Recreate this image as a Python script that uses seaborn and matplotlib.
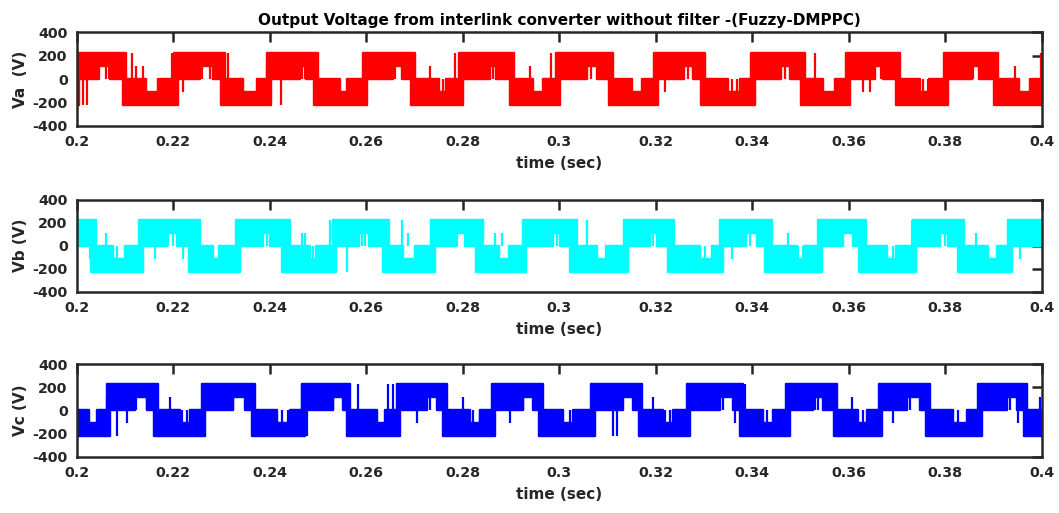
import numpy as np
import matplotlib
matplotlib.use("Agg")
import matplotlib.pyplot as plt
import seaborn as sns
import pandas as pd

# ---------------- data ----------------
# voltage levels of the multilevel output (V)
level_hi = 225
level_mid = 112

# band states: P = 0..hi, K = mid..hi (peak), N = -hi..0, T = -hi..-mid (trough), F = full switching
va_t = [0.2000, 0.2004, 0.2047, 0.2069, 0.2095, 0.2103, 0.2144, 0.2168,
        0.2201, 0.2209, 0.2255, 0.2282, 0.2299, 0.2307, 0.2345, 0.2373,
        0.2395, 0.2403, 0.2462, 0.2476, 0.2492, 0.2500, 0.2545, 0.2560,
        0.2593, 0.2601, 0.2655, 0.2674, 0.2693, 0.2701, 0.2752, 0.2766,
        0.2793, 0.2801, 0.2856, 0.2870, 0.2899, 0.2907, 0.2945, 0.2966,
        0.2993, 0.3001, 0.3057, 0.3078, 0.3103, 0.3111, 0.3150, 0.3171,
        0.3197, 0.3205, 0.3258, 0.3278, 0.3294, 0.3302, 0.3349, 0.3374,
        0.3398, 0.3406, 0.3460, 0.3478, 0.3501, 0.3509, 0.3547, 0.3571,
        0.3594, 0.3602, 0.3655, 0.3671, 0.3698, 0.3706, 0.3747, 0.3767,
        0.3797, 0.3805, 0.3855, 0.3871, 0.3901, 0.3909, 0.3954, 0.3975]
va_state = "FPKPFNTN" "FPKPFNTN" "FPKPFNTN" "FPKPFNTN" "FPKPFNTN" \
           "FPKPFNTN" "FPKPFNTN" "FPKPFNTN" "FPKPFNTN" "FPKPFNTN"

vb_t = [0.2000, 0.2030, 0.2041, 0.2075, 0.2100,
        0.2130, 0.2137, 0.2187, 0.2207, 0.2232, 0.2255, 0.2282, 0.2296,
        0.2331, 0.2338, 0.2386, 0.2400, 0.2426, 0.2442, 0.2483, 0.2497,
        0.2531, 0.2538, 0.2585, 0.2605, 0.2634, 0.2648, 0.2676, 0.2701,
        0.2735, 0.2742, 0.2787, 0.2804, 0.2828, 0.2842, 0.2876, 0.2897,
        0.2925, 0.2932, 0.2987, 0.3001, 0.3022, 0.3036, 0.3078, 0.3098,
        0.3135, 0.3142, 0.3188, 0.3202, 0.3225, 0.3239, 0.3292, 0.3316,
        0.3333, 0.3340, 0.3388, 0.3410, 0.3427, 0.3441, 0.3492, 0.3508,
        0.3537, 0.3544, 0.3588, 0.3608, 0.3622, 0.3636, 0.3679, 0.3699,
        0.3733, 0.3740, 0.3789, 0.3805, 0.3826, 0.3840, 0.3889, 0.3907,
        0.3931, 0.3938]
vb_state = "PFNTN" "FPKPFNTN" "FPKPFNTN" "FPKPFNTN" "FPKPFNTN" "FPKPFNTN" \
           "FPKPFNTN" "FPKPFNTN" "FPKPFNTN" "FPKPFNTN" "FP"

vc_t = [0.2000, 0.2026, 0.2042,
        0.2062, 0.2069, 0.2121, 0.2146, 0.2161, 0.2168, 0.2214, 0.2235,
        0.2259, 0.2266, 0.2324, 0.2349, 0.2363, 0.2370, 0.2415, 0.2442,
        0.2466, 0.2473, 0.2531, 0.2552, 0.2560, 0.2567, 0.2622, 0.2639,
        0.2663, 0.2670, 0.2726, 0.2747, 0.2760, 0.2767, 0.2815, 0.2836,
        0.2860, 0.2867, 0.2925, 0.2946, 0.2959, 0.2966, 0.3008, 0.3029,
        0.3067, 0.3074, 0.3132, 0.3153, 0.3165, 0.3172, 0.3215, 0.3236,
        0.3264, 0.3271, 0.3333, 0.3360, 0.3374, 0.3381, 0.3422, 0.3443,
        0.3471, 0.3478, 0.3526, 0.3547, 0.3569, 0.3576, 0.3619, 0.3638,
        0.3662, 0.3669, 0.3721, 0.3748, 0.3761, 0.3768, 0.3816, 0.3845,
        0.3869, 0.3876, 0.3928, 0.3949, 0.3963, 0.3970]
vc_state = "NTN" "FPKPFNTN" "FPKPFNTN" "FPKPFNTN" "FPKPFNTN" "FPKPFNTN" \
           "FPKPFNTN" "FPKPFNTN" "FPKPFNTN" "FPKPFNTN" "FPKPFN"

# isolated switching spikes (time, from, to)
va_spk_t = [0.2014, 0.2022, 0.2061, 0.2066, 0.2114, 0.2124, 0.2137, 0.2198, 0.2220, 0.2259,
            0.2276, 0.2314, 0.2394, 0.2423, 0.2466, 0.2473, 0.2653, 0.2660, 0.2732, 0.2759,
            0.2784, 0.2863, 0.2940, 0.2984, 0.3067, 0.3174, 0.3219, 0.3268, 0.3358, 0.3368,
            0.3468, 0.3530, 0.3630, 0.3644, 0.3668, 0.3755, 0.3765, 0.3858, 0.3945, 0.3998]
va_spk_lo = [-225, -225, 0, 0, 0, 0, 0, 0, -112, 0,
             0, 0, 0, -225, 0, 0, 0, 0, 0, -112,
             0, 0, 0, 0, 0, -112, -112, 0, -112, -112,
             0, 0, -112, -112, 0, -112, -112, 0, 0, 0]
va_spk_hi = [0, 0, 112, 112, 225, 112, 112, 225, 0, 112,
             112, 225, 112, 0, 112, 112, 112, 112, 112, 0,
             225, 112, 112, 225, 112, 0, 0, 112, 0, 0,
             112, 225, 0, 0, 112, 0, 0, 112, 112, 225]

vb_spk_t = [0.2028, 0.2061, 0.2083, 0.2162, 0.2190, 0.2200, 0.2221, 0.2283, 0.2297, 0.2394,
            0.2428, 0.2466, 0.2473, 0.2490, 0.2525, 0.2560, 0.2591, 0.2598, 0.2674, 0.2687,
            0.2788, 0.2867, 0.2881, 0.2898, 0.2988, 0.2995, 0.3057, 0.3195, 0.3254, 0.3288,
            0.3302, 0.3358, 0.3395, 0.3475, 0.3495, 0.3505, 0.3630, 0.3692, 0.3731, 0.3800,
            0.3865, 0.3955]
vb_spk_lo = [-112, 0, -112, -112, 0, 0, -112, -112, -112, 0,
             -112, 0, 0, -112, 0, -225, 0, 0, 0, 0,
             0, 0, 0, -112, 0, 0, 0, 0, -112, -112,
             -112, -112, 0, 0, -112, -112, -112, -112, 0, 0,
             0, -112]
vb_spk_hi = [0, 112, 0, 0, 112, 112, 0, 0, 0, 112,
             0, 112, 112, 0, 225, 0, 112, 112, 225, 112,
             112, 112, 112, 0, 112, 112, 225, 112, 0, 0,
             0, 0, 112, 112, 0, 0, 0, 0, 225, 112,
             112, 0]

vc_spk_t = [0.2062, 0.2083, 0.2104, 0.2124, 0.2145, 0.2193, 0.2218, 0.2228, 0.2325, 0.2411,
            0.2425, 0.2439, 0.2466, 0.2477, 0.2532, 0.2584, 0.2646, 0.2656, 0.2705, 0.2722,
            0.2732, 0.2801, 0.2822, 0.2836, 0.2898, 0.2926, 0.3022, 0.3112, 0.3119, 0.3195,
            0.3219, 0.3230, 0.3340, 0.3364, 0.3385, 0.3430, 0.3530, 0.3537, 0.3606, 0.3630,
            0.3692, 0.3727, 0.3765, 0.3827, 0.3934, 0.3951, 0.3997]
vc_spk_lo = [0, -225, -112, 0, 0, 0, -112, -112, 0, -112,
             -112, -112, 0, -225, 0, 0, 0, 0, -112, 0,
             0, 0, -112, -112, -112, 0, -112, -225, -225, 0,
             -112, -112, 0, -112, 0, -112, 0, 0, 0, -112,
             -112, 0, -112, -112, 0, -112, 0]
vc_spk_hi = [112, 0, 0, 112, 112, 112, 0, 0, 112, 0,
             0, 0, 225, 0, 112, 225, 225, 225, 0, 112,
             112, 112, 0, 0, 0, 112, 0, 0, 0, 112,
             0, 0, 112, 0, 225, 0, 112, 112, 112, 0,
             0, 112, 0, 0, 112, 0, 112]

series_names = ["Va  (V)", "Vb (V)", "Vc (V)"]
series_colors = ["#FF0000", "#00FFFF", "#0000FF"]
title_text = "Output Voltage from interlink converter without filter -(Fuzzy-DMPPC)"
x_label = "time (sec)"
x_ticks = [0.2, 0.22, 0.24, 0.26, 0.28, 0.3, 0.32, 0.34, 0.36, 0.38, 0.4]
x_ticklabels = ["0.2", "0.22", "0.24", "0.26", "0.28", "0.3", "0.32", "0.34", "0.36", "0.38", "0.4"]
y_ticks = [-400, -200, 0, 200, 400]
y_ticklabels = ["-400", "-200", "0", "200", "400"]
t_end = 0.4

# ---------------- drawing ----------------
sns.set_theme(style="white")
plt.rcParams["font.family"] = ["DejaVu Sans"]
plt.rcParams["font.weight"] = "bold"
plt.rcParams["axes.unicode_minus"] = False

band = {"P": (0, level_hi), "K": (level_mid, level_hi), "N": (-level_hi, 0),
        "T": (-level_hi, -level_mid), "F": (-level_hi, level_hi)}

dark = "#262626"
fig = plt.figure(figsize=(10.59, 5.13), dpi=100)
positions = [[0.0724, 0.7544, 0.9112, 0.1832],
             [0.0724, 0.4308, 0.9112, 0.1803],
             [0.0724, 0.1097, 0.9112, 0.1807]]

data = [(va_t, va_state, va_spk_t, va_spk_lo, va_spk_hi),
        (vb_t, vb_state, vb_spk_t, vb_spk_lo, vb_spk_hi),
        (vc_t, vc_state, vc_spk_t, vc_spk_lo, vc_spk_hi)]

for i, (pos, (tt, st, sk_t, sk_lo, sk_hi)) in enumerate(zip(positions, data)):
    assert len(tt) == len(st), (i, len(tt), len(st))
    ax = fig.add_axes(pos)
    color = series_colors[i]
    t = np.array(list(tt) + [t_end])
    lo = np.array([band[s][0] for s in st] + [band[st[-1]][0]])
    hi = np.array([band[s][1] for s in st] + [band[st[-1]][1]])
    ax.fill_between(t, lo, hi, step="post", color=color, lw=1.6, edgecolor=color)
    df = pd.DataFrame({"t": np.concatenate([t, t]),
                       "v": np.concatenate([lo, hi]),
                       "edge": ["lo"] * len(t) + ["hi"] * len(t)})
    sns.lineplot(data=df, x="t", y="v", units="edge", estimator=None, sort=False,
                 drawstyle="steps-post", color=color, lw=1.6, ax=ax, legend=False)
    ax.vlines(sk_t, sk_lo, sk_hi, color=color, lw=1.6)

    ax.set_xlim(0.2, 0.4)
    ax.set_ylim(-400, 400)
    ax.set_xticks(x_ticks)
    ax.set_xticklabels(x_ticklabels)
    ax.set_yticks(y_ticks)
    ax.set_yticklabels(y_ticklabels)
    ax.tick_params(direction="in", length=7, width=1.8, colors=dark, labelcolor=dark,
                   labelsize=10.3, top=True, right=True, pad=6.5)
    for lab in ax.get_xticklabels() + ax.get_yticklabels():
        lab.set_fontweight("bold")
    for sp in ax.spines.values():
        sp.set_visible(True)
        sp.set_color(dark)
        sp.set_linewidth(1.8)
    ax.set_xlabel(x_label, fontsize=11, fontweight="bold", color=dark, labelpad=5)
    ax.set_ylabel(series_names[i], fontsize=11, fontweight="bold", color=dark, labelpad=3)
    if i == 0:
        ax.set_title(title_text, fontsize=11, fontweight="bold", color="black", pad=5)

fig.savefig("out.png", dpi=100)
